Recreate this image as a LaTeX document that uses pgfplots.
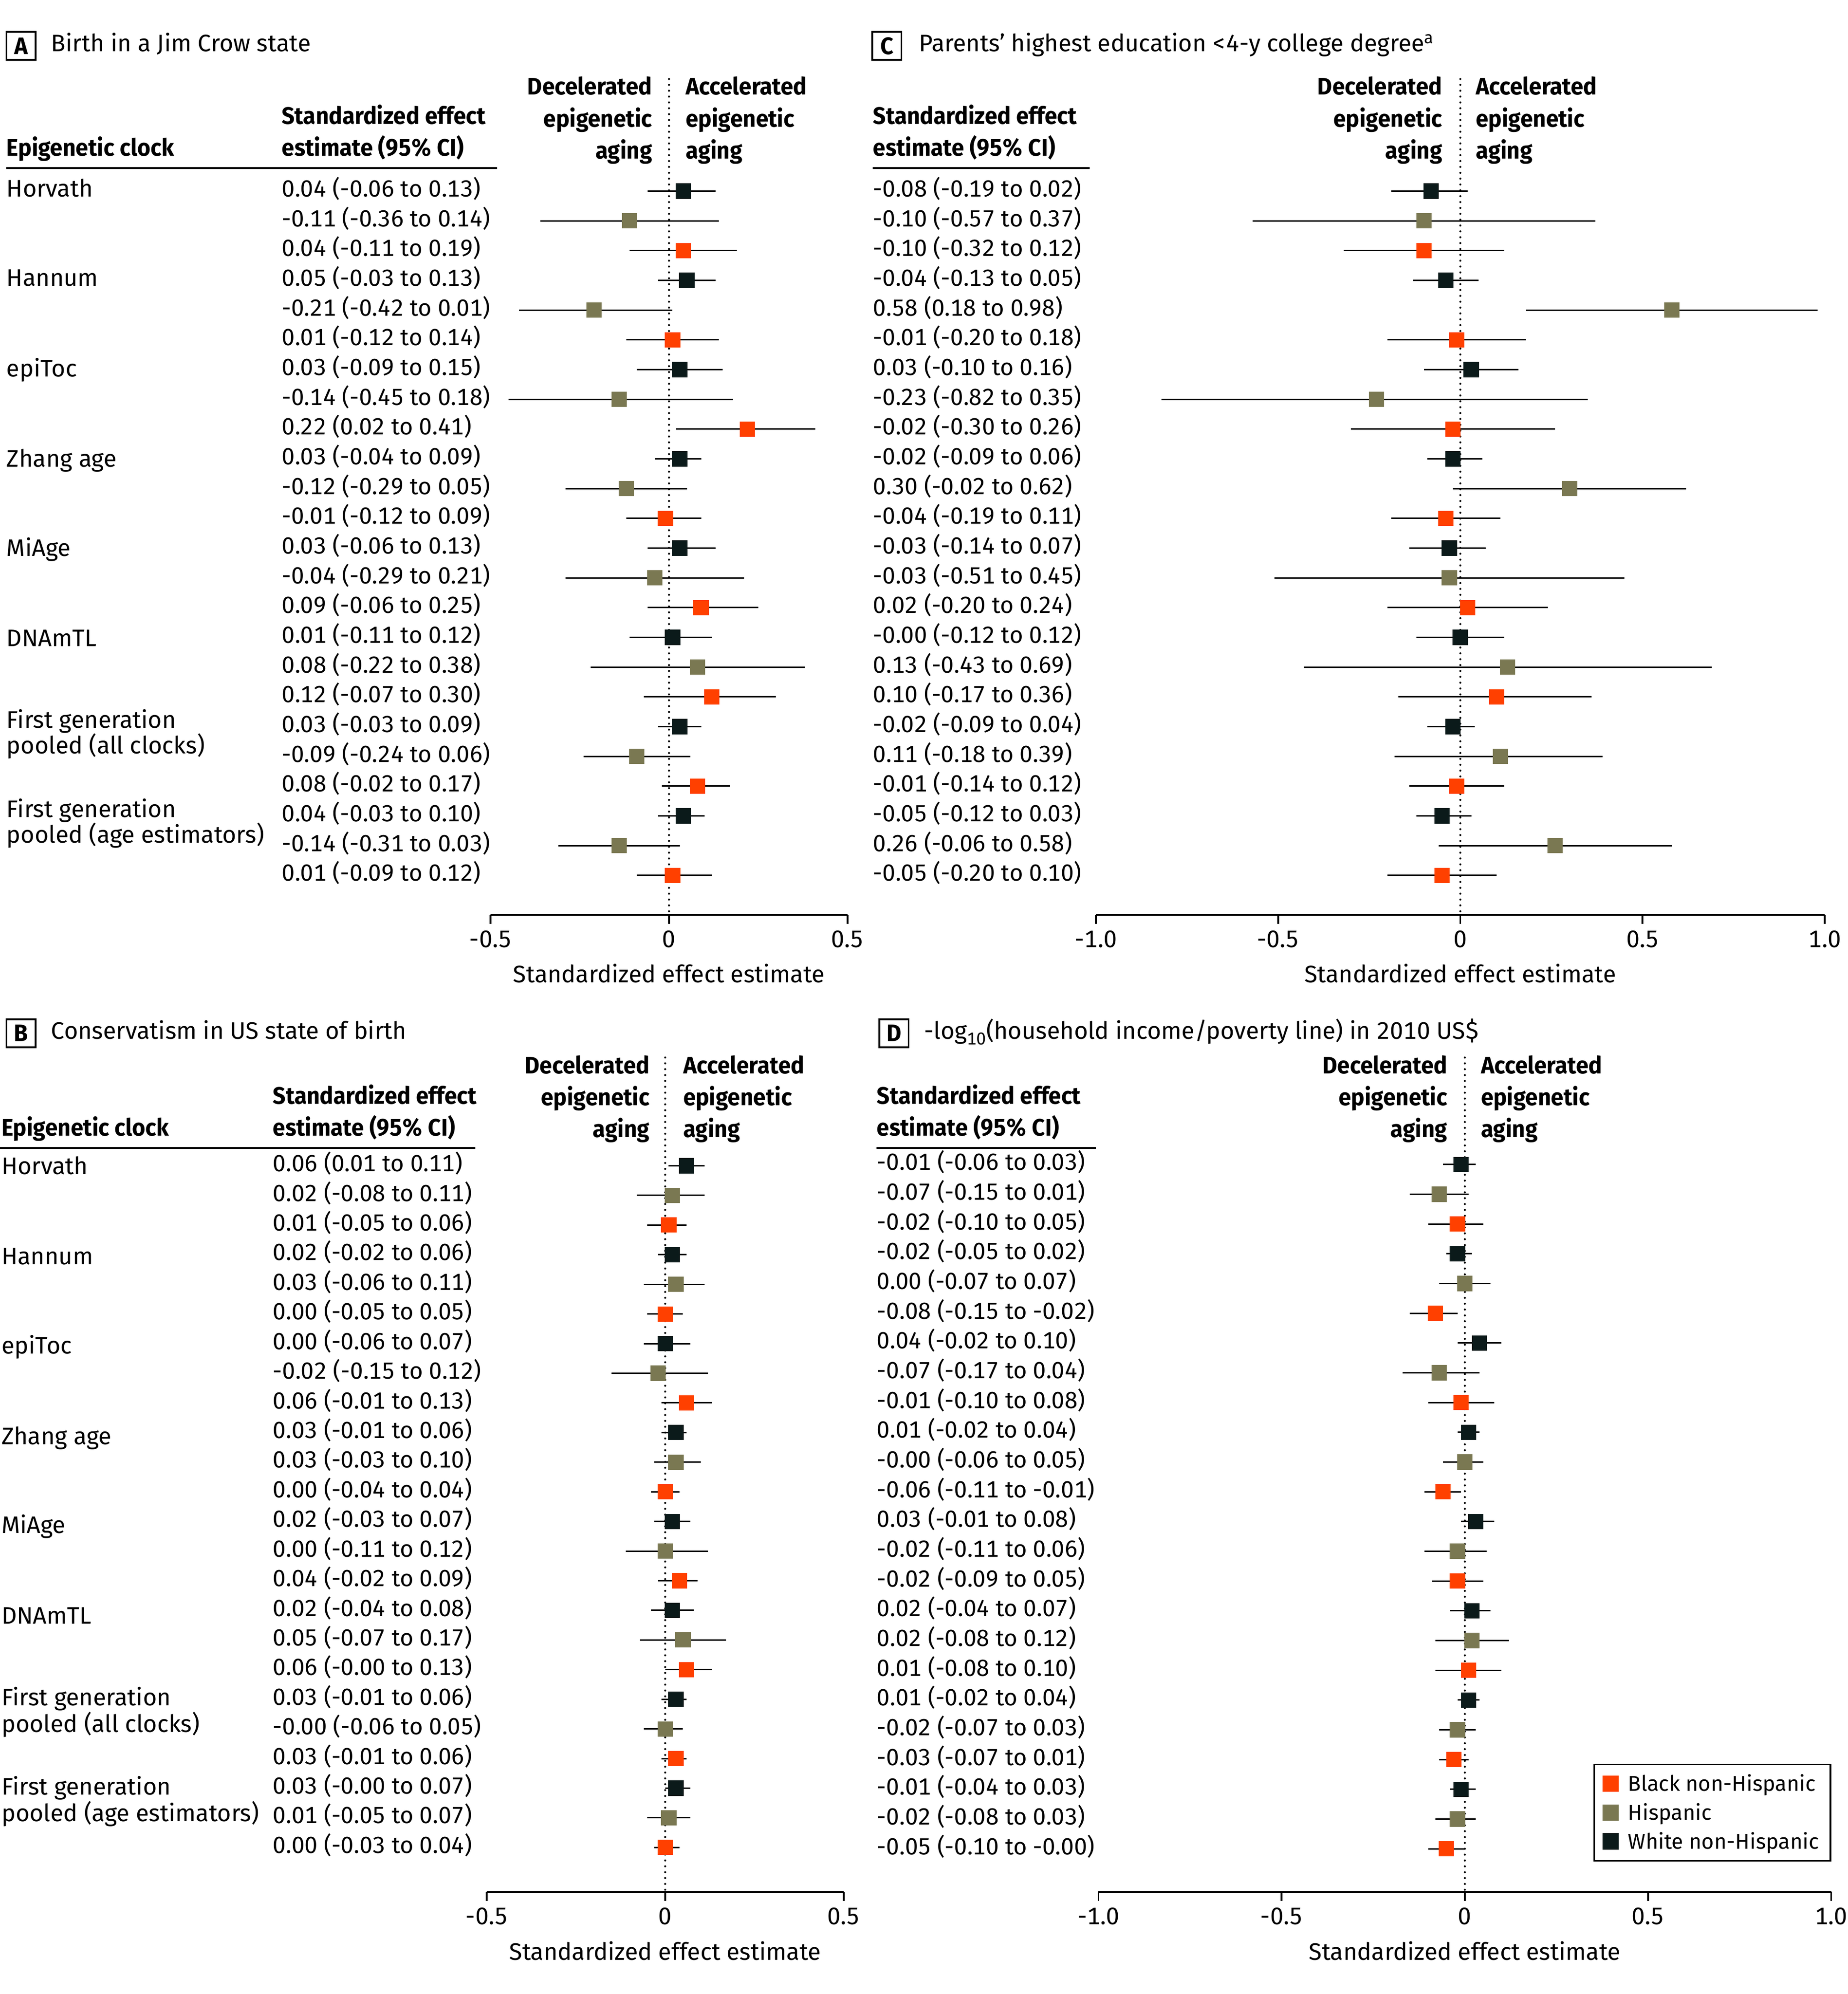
\documentclass[border=0pt]{standalone}
\usepackage{fontspec}
\setmainfont{Fira Sans}[Numbers=Monospaced, BoldFeatures={FakeStretch=0.95}]
\usepackage{pgfplots}
\usepackage{pgfplotstable}
\pgfplotsset{compat=1.18}

\definecolor{cB}{HTML}{FF4000}
\definecolor{cH}{HTML}{7A7852}
\definecolor{cW}{HTML}{0B1A1A}

\newcommand{\fs}{\fontsize{18.75}{21}\selectfont}
\newcommand{\fci}{\fontsize{18.3}{21}\selectfont}
\newcommand{\fl}{\fontsize{16.8}{19}\selectfont}

% r = row (top to bottom), est, lo, hi, g = group (w white, h hispanic, b black)
\pgfplotstableread{
r est lo hi g
0 0.04 -0.06 0.13 w
1 -0.11 -0.36 0.14 h
2 0.04 -0.11 0.19 b
3 0.05 -0.03 0.13 w
4 -0.21 -0.42 0.01 h
5 0.01 -0.12 0.14 b
6 0.03 -0.09 0.15 w
7 -0.14 -0.45 0.18 h
8 0.22 0.02 0.41 b
9 0.03 -0.04 0.09 w
10 -0.12 -0.29 0.05 h
11 -0.01 -0.12 0.09 b
12 0.03 -0.06 0.13 w
13 -0.04 -0.29 0.21 h
14 0.09 -0.06 0.25 b
15 0.01 -0.11 0.12 w
16 0.08 -0.22 0.38 h
17 0.12 -0.07 0.30 b
18 0.03 -0.03 0.09 w
19 -0.09 -0.24 0.06 h
20 0.08 -0.02 0.17 b
21 0.04 -0.03 0.10 w
22 -0.14 -0.31 0.03 h
23 0.01 -0.09 0.12 b
}\tabA

\pgfplotstableread{
r est lo hi g
0 -0.08 -0.19 0.02 w
1 -0.10 -0.57 0.37 h
2 -0.10 -0.32 0.12 b
3 -0.04 -0.13 0.05 w
4 0.58 0.18 0.98 h
5 -0.01 -0.20 0.18 b
6 0.03 -0.10 0.16 w
7 -0.23 -0.82 0.35 h
8 -0.02 -0.30 0.26 b
9 -0.02 -0.09 0.06 w
10 0.30 -0.02 0.62 h
11 -0.04 -0.19 0.11 b
12 -0.03 -0.14 0.07 w
13 -0.03 -0.51 0.45 h
14 0.02 -0.20 0.24 b
15 0.00 -0.12 0.12 w
16 0.13 -0.43 0.69 h
17 0.10 -0.17 0.36 b
18 -0.02 -0.09 0.04 w
19 0.11 -0.18 0.39 h
20 -0.01 -0.14 0.12 b
21 -0.05 -0.12 0.03 w
22 0.26 -0.06 0.58 h
23 -0.05 -0.20 0.10 b
}\tabC

\pgfplotstableread{
r est lo hi g
0 0.06 0.01 0.11 w
1 0.02 -0.08 0.11 h
2 0.01 -0.05 0.06 b
3 0.02 -0.02 0.06 w
4 0.03 -0.06 0.11 h
5 0.00 -0.05 0.05 b
6 0.00 -0.06 0.07 w
7 -0.02 -0.15 0.12 h
8 0.06 -0.01 0.13 b
9 0.03 -0.01 0.06 w
10 0.03 -0.03 0.10 h
11 0.00 -0.04 0.04 b
12 0.02 -0.03 0.07 w
13 0.00 -0.11 0.12 h
14 0.04 -0.02 0.09 b
15 0.02 -0.04 0.08 w
16 0.05 -0.07 0.17 h
17 0.06 0.00 0.13 b
18 0.03 -0.01 0.06 w
19 0.00 -0.06 0.05 h
20 0.03 -0.01 0.06 b
21 0.03 0.00 0.07 w
22 0.01 -0.05 0.07 h
23 0.00 -0.03 0.04 b
}\tabB

\pgfplotstableread{
r est lo hi g
0 -0.01 -0.06 0.03 w
1 -0.07 -0.15 0.01 h
2 -0.02 -0.10 0.05 b
3 -0.02 -0.05 0.02 w
4 0.00 -0.07 0.07 h
5 -0.08 -0.15 -0.02 b
6 0.04 -0.02 0.10 w
7 -0.07 -0.17 0.04 h
8 -0.01 -0.10 0.08 b
9 0.01 -0.02 0.04 w
10 0.00 -0.06 0.05 h
11 -0.06 -0.11 -0.01 b
12 0.03 -0.01 0.08 w
13 -0.02 -0.11 0.06 h
14 -0.02 -0.09 0.05 b
15 0.02 -0.04 0.07 w
16 0.02 -0.08 0.12 h
17 0.01 -0.08 0.10 b
18 0.01 -0.02 0.04 w
19 -0.02 -0.07 0.03 h
20 -0.03 -0.07 0.01 b
21 -0.01 -0.04 0.03 w
22 -0.02 -0.08 0.03 h
23 -0.05 -0.10 0.00 b
}\tabD

\pgfplotsset{
  forest/.style={
    scale only axis, clip=false,
    axis x line*=bottom, axis y line*=left,
    x axis line style={-, line width=1.4pt},
    y axis line style={draw=none},
    ytick style={draw=none},
    xtick align=outside,
    major tick length=7pt,
    xtick style={black, line width=1.4pt},
    ytick={0,-1,...,-23},
    yticklabel style={font=\fci, anchor=west, inner sep=0pt, text height=13pt, text depth=4pt},
    xticklabel style={font=\fs, anchor=center, inner sep=0pt, yshift=-12pt},
    xlabel={Standardized effect estimate},
    xlabel style={font=\fs, at={(axis description cs:0.5,0)}, anchor=center, yshift=-46pt},
  },
  cibar/.style={only marks, mark=none, forget plot,
    error bars/x dir=both, error bars/x explicit, error bars/error mark=none,
    error bars/error bar style={line width=1.1pt, black, solid}},
  pts/.style={scatter, only marks, scatter src=explicit symbolic, mark size=5.8pt,
    scatter/classes={
      b={mark=square*, draw=cB, fill=cB},
      h={mark=square*, draw=cH, fill=cH},
      w={mark=square*, draw=cW, fill=cW}}},
  zeroline/.style={forget plot, black, line width=1.6pt, dash pattern=on 0pt off 4.6pt, line cap=round},
}

\tikzset{
  lab/.style={font=\fs, inner sep=0pt, text height=13pt, text depth=4pt},
  hd/.style={lab, font=\fs\bfseries},
  pbox/.style={draw, line width=1.3pt, minimum width=23pt, minimum height=22pt, inner sep=0pt, font=\fs\bfseries},
}

\begin{document}
\begin{tikzpicture}
\useasboundingbox (0pt,0pt) rectangle (1450pt,-1565pt);

% ---------------- A ----------------
\begin{axis}[forest, at={(385pt,-718pt)}, anchor=south west,
  width=280pt, height=656pt, xmin=-0.5, xmax=0.5, ymin=-24.325, ymax=3.769,
  xtick={-0.5,0,0.5}, xticklabels={-0.5,0,0.5},
  yticklabel style={xshift=-164pt},
  yticklabels={0.04 (-0.06 to 0.13), -0.11 (-0.36 to 0.14), 0.04 (-0.11 to 0.19),
    0.05 (-0.03 to 0.13), -0.21 (-0.42 to 0.01), 0.01 (-0.12 to 0.14),
    0.03 (-0.09 to 0.15), -0.14 (-0.45 to 0.18), 0.22 (0.02 to 0.41),
    0.03 (-0.04 to 0.09), -0.12 (-0.29 to 0.05), -0.01 (-0.12 to 0.09),
    0.03 (-0.06 to 0.13), -0.04 (-0.29 to 0.21), 0.09 (-0.06 to 0.25),
    0.01 (-0.11 to 0.12), 0.08 (-0.22 to 0.38), 0.12 (-0.07 to 0.30),
    0.03 (-0.03 to 0.09), -0.09 (-0.24 to 0.06), 0.08 (-0.02 to 0.17),
    0.04 (-0.03 to 0.10), -0.14 (-0.31 to 0.03), 0.01 (-0.09 to 0.12)},
]
\addplot[zeroline] coordinates {(0,3.769) (0,-24.325)};
\addplot[cibar] table[x=est, y expr=-\thisrow{r}, x error plus expr=\thisrow{hi}-\thisrow{est}, x error minus expr=\thisrow{est}-\thisrow{lo}] {\tabA};
\addplot[pts] table[x=est, y expr=-\thisrow{r}, meta=g] {\tabA};
\end{axis}

% ---------------- C ----------------
\begin{axis}[forest, at={(860pt,-718pt)}, anchor=south west,
  width=572pt, height=656pt, xmin=-1, xmax=1, ymin=-24.325, ymax=3.769,
  xtick={-1,-0.5,0,0.5,1}, xticklabels={-1.0,-0.5,0,0.5,1.0},
  yticklabel style={xshift=-175pt},
  yticklabels={-0.08 (-0.19 to 0.02), -0.10 (-0.57 to 0.37), -0.10 (-0.32 to 0.12),
    -0.04 (-0.13 to 0.05), 0.58 (0.18 to 0.98), -0.01 (-0.20 to 0.18),
    0.03 (-0.10 to 0.16), -0.23 (-0.82 to 0.35), -0.02 (-0.30 to 0.26),
    -0.02 (-0.09 to 0.06), 0.30 (-0.02 to 0.62), -0.04 (-0.19 to 0.11),
    -0.03 (-0.14 to 0.07), -0.03 (-0.51 to 0.45), 0.02 (-0.20 to 0.24),
    -0.00 (-0.12 to 0.12), 0.13 (-0.43 to 0.69), 0.10 (-0.17 to 0.36),
    -0.02 (-0.09 to 0.04), 0.11 (-0.18 to 0.39), -0.01 (-0.14 to 0.12),
    -0.05 (-0.12 to 0.03), 0.26 (-0.06 to 0.58), -0.05 (-0.20 to 0.10)},
]
\addplot[zeroline] coordinates {(0,3.769) (0,-24.325)};
\addplot[cibar] table[x=est, y expr=-\thisrow{r}, x error plus expr=\thisrow{hi}-\thisrow{est}, x error minus expr=\thisrow{est}-\thisrow{lo}] {\tabC};
\addplot[pts] table[x=est, y expr=-\thisrow{r}, meta=g] {\tabC};
\end{axis}

% ---------------- B ----------------
\begin{axis}[forest, at={(382pt,-1485pt)}, anchor=south west,
  width=280pt, height=655pt, xmin=-0.5, xmax=0.5, ymin=-24.506, ymax=3.654,
  xtick={-0.5,0,0.5}, xticklabels={-0.5,0,0.5},
  yticklabel style={xshift=-168pt},
  yticklabels={0.06 (0.01 to 0.11), 0.02 (-0.08 to 0.11), 0.01 (-0.05 to 0.06),
    0.02 (-0.02 to 0.06), 0.03 (-0.06 to 0.11), 0.00 (-0.05 to 0.05),
    0.00 (-0.06 to 0.07), -0.02 (-0.15 to 0.12), 0.06 (-0.01 to 0.13),
    0.03 (-0.01 to 0.06), 0.03 (-0.03 to 0.10), 0.00 (-0.04 to 0.04),
    0.02 (-0.03 to 0.07), 0.00 (-0.11 to 0.12), 0.04 (-0.02 to 0.09),
    0.02 (-0.04 to 0.08), 0.05 (-0.07 to 0.17), 0.06 (-0.00 to 0.13),
    0.03 (-0.01 to 0.06), -0.00 (-0.06 to 0.05), 0.03 (-0.01 to 0.06),
    0.03 (-0.00 to 0.07), 0.01 (-0.05 to 0.07), 0.00 (-0.03 to 0.04)},
]
\addplot[zeroline] coordinates {(0,3.654) (0,-24.506)};
\addplot[cibar] table[x=est, y expr=-\thisrow{r}, x error plus expr=\thisrow{hi}-\thisrow{est}, x error minus expr=\thisrow{est}-\thisrow{lo}] {\tabB};
\addplot[pts] table[x=est, y expr=-\thisrow{r}, meta=g] {\tabB};
\end{axis}

% ---------------- D ----------------
\begin{axis}[forest, at={(862pt,-1485pt)}, anchor=south west,
  width=575pt, height=655pt, xmin=-1, xmax=1, ymin=-24.454, ymax=3.597,
  xtick={-1,-0.5,0,0.5,1}, xticklabels={-1.0,-0.5,0,0.5,1.0},
  yticklabel style={xshift=-174pt},
  yticklabels={-0.01 (-0.06 to 0.03), -0.07 (-0.15 to 0.01), -0.02 (-0.10 to 0.05),
    -0.02 (-0.05 to 0.02), 0.00 (-0.07 to 0.07), -0.08 (-0.15 to -0.02),
    0.04 (-0.02 to 0.10), -0.07 (-0.17 to 0.04), -0.01 (-0.10 to 0.08),
    0.01 (-0.02 to 0.04), -0.00 (-0.06 to 0.05), -0.06 (-0.11 to -0.01),
    0.03 (-0.01 to 0.08), -0.02 (-0.11 to 0.06), -0.02 (-0.09 to 0.05),
    0.02 (-0.04 to 0.07), 0.02 (-0.08 to 0.12), 0.01 (-0.08 to 0.10),
    0.01 (-0.02 to 0.04), -0.02 (-0.07 to 0.03), -0.03 (-0.07 to 0.01),
    -0.01 (-0.04 to 0.03), -0.02 (-0.08 to 0.03), -0.05 (-0.10 to -0.00)},
  legend style={at={(axis description cs:1.0,0.154)}, anchor=north east,
    draw=black, line width=1.2pt, font=\fl, inner xsep=7pt, inner ysep=6pt, row sep=4pt,
    /tikz/every odd column/.append style={column sep=6pt}},
  legend cell align=left,
]
\addplot[zeroline] coordinates {(0,3.597) (0,-24.454)};
\addplot[cibar] table[x=est, y expr=-\thisrow{r}, x error plus expr=\thisrow{hi}-\thisrow{est}, x error minus expr=\thisrow{est}-\thisrow{lo}] {\tabD};
\addplot[pts] table[x=est, y expr=-\thisrow{r}, meta=g] {\tabD};
\legend{Black non-Hispanic, Hispanic, White non-Hispanic}
\end{axis}

% ---------------- text: panel A ----------------
\node[pbox] at (16.5pt,-36pt) {A};
\node[lab, anchor=west] at (40pt,-36pt) {Birth in a Jim Crow state};
\node[hd, anchor=west] at (5pt,-118pt) {Epigenetic clock};
\node[hd, anchor=west] at (221pt,-93pt) {Standardized effect};
\node[hd, anchor=west] at (221pt,-118pt) {estimate (95\% CI)};
\draw[line width=1.5pt] (5pt,-132pt) -- (390pt,-132pt);
\node[hd, anchor=east] at (512pt,-70pt) {Decelerated};
\node[hd, anchor=east] at (512pt,-95pt) {epigenetic};
\node[hd, anchor=east] at (512pt,-120pt) {aging};
\node[hd, anchor=west] at (538pt,-70pt) {Accelerated};
\node[hd, anchor=west] at (538pt,-95pt) {epigenetic};
\node[hd, anchor=west] at (538pt,-120pt) {aging};
\node[lab, anchor=west] at (5pt,-150pt) {Horvath};
\node[lab, anchor=west] at (5pt,-220pt) {Hannum};
\node[lab, anchor=west] at (5pt,-291pt) {epiToc};
\node[lab, anchor=west] at (5pt,-362pt) {Zhang age};
\node[lab, anchor=west] at (5pt,-432pt) {MiAge};
\node[lab, anchor=west] at (5pt,-503pt) {DNAmTL};
\node[lab, anchor=west] at (5pt,-567pt) {First generation};
\node[lab, anchor=west] at (5pt,-587pt) {pooled (all clocks)};
\node[lab, anchor=west] at (5pt,-637pt) {First generation};
\node[lab, anchor=west] at (5pt,-657pt) {pooled (age estimators)};

% ---------------- text: panel C ----------------
\node[pbox] at (696pt,-36pt) {C};
\node[lab, anchor=west] at (721pt,-36pt) {Parents’ highest education <4-y college degree\textsuperscript{a}};
\node[hd, anchor=west] at (685pt,-93pt) {Standardized effect};
\node[hd, anchor=west] at (685pt,-118pt) {estimate (95\% CI)};
\draw[line width=1.5pt] (685pt,-132pt) -- (855pt,-132pt);
\node[hd, anchor=east] at (1132pt,-70pt) {Decelerated};
\node[hd, anchor=east] at (1132pt,-95pt) {epigenetic};
\node[hd, anchor=east] at (1132pt,-120pt) {aging};
\node[hd, anchor=west] at (1158pt,-70pt) {Accelerated};
\node[hd, anchor=west] at (1158pt,-95pt) {epigenetic};
\node[hd, anchor=west] at (1158pt,-120pt) {aging};

% ---------------- text: panel B ----------------
\node[pbox] at (16.5pt,-811pt) {B};
\node[lab, anchor=west] at (40pt,-811pt) {Conservatism in US state of birth};
\node[hd, anchor=west] at (1pt,-887pt) {Epigenetic clock};
\node[hd, anchor=west] at (214pt,-862pt) {Standardized effect};
\node[hd, anchor=west] at (214pt,-887pt) {estimate (95\% CI)};
\draw[line width=1.5pt] (0pt,-901pt) -- (373pt,-901pt);
\node[hd, anchor=east] at (510pt,-838pt) {Decelerated};
\node[hd, anchor=east] at (510pt,-863pt) {epigenetic};
\node[hd, anchor=east] at (510pt,-888pt) {aging};
\node[hd, anchor=west] at (536pt,-838pt) {Accelerated};
\node[hd, anchor=west] at (536pt,-863pt) {epigenetic};
\node[hd, anchor=west] at (536pt,-888pt) {aging};
\node[lab, anchor=west] at (1pt,-917pt) {Horvath};
\node[lab, anchor=west] at (1pt,-988pt) {Hannum};
\node[lab, anchor=west] at (1pt,-1058pt) {epiToc};
\node[lab, anchor=west] at (1pt,-1129pt) {Zhang age};
\node[lab, anchor=west] at (1pt,-1199pt) {MiAge};
\node[lab, anchor=west] at (1pt,-1270pt) {DNAmTL};
\node[lab, anchor=west] at (1pt,-1334pt) {First generation};
\node[lab, anchor=west] at (1pt,-1355pt) {pooled (all clocks)};
\node[lab, anchor=west] at (1pt,-1404pt) {First generation};
\node[lab, anchor=west] at (1pt,-1425pt) {pooled (age estimators)};

% ---------------- text: panel D ----------------
\node[pbox] at (701.5pt,-811pt) {D};
\node[lab, anchor=west] at (725pt,-811pt) {-log\raisebox{-4.5pt}{\fontsize{13.5}{14}\selectfont 10}(household income/poverty line) in 2010 US\$};
\node[hd, anchor=west] at (688pt,-862pt) {Standardized effect};
\node[hd, anchor=west] at (688pt,-887pt) {estimate (95\% CI)};
\draw[line width=1.5pt] (688pt,-901pt) -- (860pt,-901pt);
\node[hd, anchor=east] at (1136pt,-838pt) {Decelerated};
\node[hd, anchor=east] at (1136pt,-863pt) {epigenetic};
\node[hd, anchor=east] at (1136pt,-888pt) {aging};
\node[hd, anchor=west] at (1162pt,-838pt) {Accelerated};
\node[hd, anchor=west] at (1162pt,-863pt) {epigenetic};
\node[hd, anchor=west] at (1162pt,-888pt) {aging};
\end{tikzpicture}
\end{document}
